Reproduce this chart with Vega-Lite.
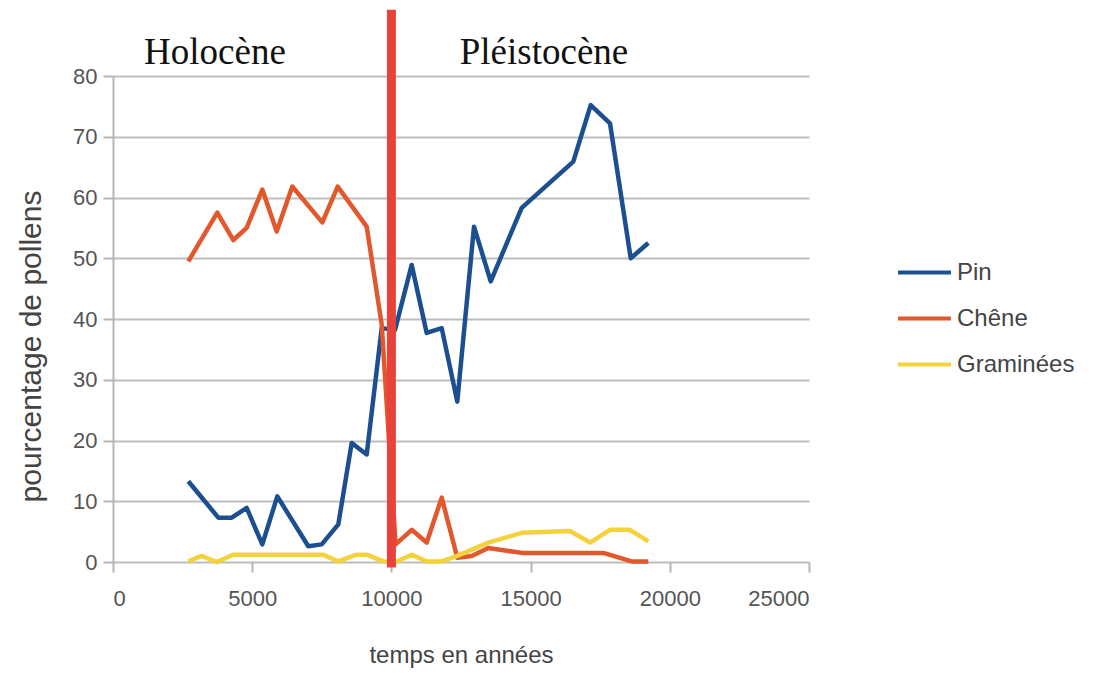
{
  "$schema": "https://vega.github.io/schema/vega-lite/v6.json",
  "width": 696,
  "height": 486,
  "autosize": {"type": "none"},
  "padding": {"left": 113, "top": 76, "right": 288, "bottom": 122},
  "background": "white",
  "config": {
    "view": {"stroke": null},
    "axis": {"labelFont": "Liberation Sans", "titleFont": "Liberation Sans"},
    "legend": {"labelFont": "Liberation Sans"}
  },
  "datasets": {
    "pollens": [
      {"annee": 2705, "pct": 13.3, "espece": "Pin"},
      {"annee": 3782, "pct": 7.3, "espece": "Pin"},
      {"annee": 4264, "pct": 7.3, "espece": "Pin"},
      {"annee": 4802, "pct": 8.9, "espece": "Pin"},
      {"annee": 5363, "pct": 2.9, "espece": "Pin"},
      {"annee": 5902, "pct": 10.8, "espece": "Pin"},
      {"annee": 7015, "pct": 2.6, "espece": "Pin"},
      {"annee": 7496, "pct": 2.9, "espece": "Pin"},
      {"annee": 8093, "pct": 6.2, "espece": "Pin"},
      {"annee": 8574, "pct": 19.6, "espece": "Pin"},
      {"annee": 9113, "pct": 17.7, "espece": "Pin"},
      {"annee": 9652, "pct": 38.5, "espece": "Pin"},
      {"annee": 10129, "pct": 38.2, "espece": "Pin"},
      {"annee": 10729, "pct": 48.9, "espece": "Pin"},
      {"annee": 11268, "pct": 37.7, "espece": "Pin"},
      {"annee": 11807, "pct": 38.5, "espece": "Pin"},
      {"annee": 12367, "pct": 26.4, "espece": "Pin"},
      {"annee": 12967, "pct": 55.2, "espece": "Pin"},
      {"annee": 13567, "pct": 46.2, "espece": "Pin"},
      {"annee": 14680, "pct": 58.3, "espece": "Pin"},
      {"annee": 16534, "pct": 65.9, "espece": "Pin"},
      {"annee": 17159, "pct": 75.2, "espece": "Pin"},
      {"annee": 17852, "pct": 72.2, "espece": "Pin"},
      {"annee": 18596, "pct": 50.0, "espece": "Pin"},
      {"annee": 19228, "pct": 52.5, "espece": "Pin"},
      {"annee": 2705, "pct": 49.5, "espece": "Chêne"},
      {"annee": 3746, "pct": 57.5, "espece": "Chêne"},
      {"annee": 4321, "pct": 53.0, "espece": "Chêne"},
      {"annee": 4802, "pct": 55.0, "espece": "Chêne"},
      {"annee": 5363, "pct": 61.3, "espece": "Chêne"},
      {"annee": 5880, "pct": 54.4, "espece": "Chêne"},
      {"annee": 6440, "pct": 61.8, "espece": "Chêne"},
      {"annee": 7518, "pct": 55.9, "espece": "Chêne"},
      {"annee": 8071, "pct": 61.8, "espece": "Chêne"},
      {"annee": 9113, "pct": 55.2, "espece": "Chêne"},
      {"annee": 9652, "pct": 39.1, "espece": "Chêne"},
      {"annee": 10150, "pct": 2.9, "espece": "Chêne"},
      {"annee": 10729, "pct": 5.3, "espece": "Chêne"},
      {"annee": 11268, "pct": 3.2, "espece": "Chêne"},
      {"annee": 11807, "pct": 10.6, "espece": "Chêne"},
      {"annee": 12367, "pct": 0.7, "espece": "Chêne"},
      {"annee": 12884, "pct": 1.0, "espece": "Chêne"},
      {"annee": 13481, "pct": 2.3, "espece": "Chêne"},
      {"annee": 14680, "pct": 1.5, "espece": "Chêne"},
      {"annee": 17611, "pct": 1.5, "espece": "Chêne"},
      {"annee": 18631, "pct": 0.1, "espece": "Chêne"},
      {"annee": 19228, "pct": 0.1, "espece": "Chêne"},
      {"annee": 2705, "pct": 0.1, "espece": "Graminées"},
      {"annee": 3185, "pct": 1.0, "espece": "Graminées"},
      {"annee": 3724, "pct": 0.0, "espece": "Graminées"},
      {"annee": 4321, "pct": 1.2, "espece": "Graminées"},
      {"annee": 7554, "pct": 1.2, "espece": "Graminées"},
      {"annee": 8093, "pct": 0.1, "espece": "Graminées"},
      {"annee": 8753, "pct": 1.2, "espece": "Graminées"},
      {"annee": 9113, "pct": 1.2, "espece": "Graminées"},
      {"annee": 9710, "pct": 0.1, "espece": "Graminées"},
      {"annee": 10150, "pct": 0.0, "espece": "Graminées"},
      {"annee": 10729, "pct": 1.2, "espece": "Graminées"},
      {"annee": 11268, "pct": 0.1, "espece": "Graminées"},
      {"annee": 11807, "pct": 0.1, "espece": "Graminées"},
      {"annee": 12367, "pct": 1.0, "espece": "Graminées"},
      {"annee": 13481, "pct": 3.2, "espece": "Graminées"},
      {"annee": 14680, "pct": 4.8, "espece": "Graminées"},
      {"annee": 16415, "pct": 5.1, "espece": "Graminées"},
      {"annee": 17134, "pct": 3.2, "espece": "Graminées"},
      {"annee": 17852, "pct": 5.3, "espece": "Graminées"},
      {"annee": 18570, "pct": 5.3, "espece": "Graminées"},
      {"annee": 19228, "pct": 3.4, "espece": "Graminées"}
    ]
  },
  "layer": [
    {
      "data": {"name": "pollens"},
      "mark": {"type": "line", "strokeWidth": 4.5, "strokeJoin": "round"},
      "encoding": {
        "x": {
          "field": "annee", "type": "quantitative",
          "scale": {"domain": [0, 25000], "nice": false, "zero": false},
          "axis": {
            "title": "temps en années",
            "values": [0, 5000, 10000, 15000, 20000, 25000],
            "format": "d",
            "grid": false,
            "domain": false,
            "ticks": true, "tickSize": 10, "tickColor": "#b5b5b5", "tickWidth": 2,
            "labelFontSize": 22, "labelColor": "#555555", "labelPadding": 16,
            "titleFontSize": 24, "titleFontWeight": "normal", "titleColor": "#444444", "titlePadding": 34
          }
        },
        "y": {
          "field": "pct", "type": "quantitative",
          "scale": {"domain": [0, 80], "nice": false},
          "axis": {
            "title": "pourcentage de pollens",
            "values": [0, 10, 20, 30, 40, 50, 60, 70, 80],
            "grid": true, "gridColor": "#bdbdbd", "gridWidth": 2,
            "domain": true, "domainColor": "#b5b5b5", "domainWidth": 2,
            "ticks": true, "tickSize": 10, "tickColor": "#b5b5b5", "tickWidth": 2,
            "labelFontSize": 22, "labelColor": "#555555", "labelPadding": 6,
            "titleFontSize": 30, "titleFontWeight": "normal", "titleColor": "#444444",
            "titleX": -82, "titleY": 270, "titleAlign": "center", "titleBaseline": "middle", "titleAngle": -90
          }
        },
        "color": {
          "field": "espece", "type": "nominal",
          "scale": {"domain": ["Pin", "Chêne", "Graminées"], "range": ["#1c4f8f", "#e2572b", "#f3d23c"]},
          "legend": {
            "title": null,
            "orient": "none",
            "legendX": 783,
            "legendY": 168,
            "symbolType": "stroke",
            "symbolSize": 2800,
            "symbolStrokeWidth": 4,
            "labelFontSize": 24,
            "labelColor": "#444444",
            "labelOffset": 4,
            "rowPadding": 5
          }
        }
      }
    },
    {
      "data": {"values": [{"limite": 10000}]},
      "mark": {"type": "rule", "color": "#e8433a", "strokeWidth": 9},
      "encoding": {
        "x": {"field": "limite", "type": "quantitative"},
        "y": {"datum": -0.9},
        "y2": {"datum": 90.9}
      }
    },
    {
      "data": {"values": [{"periode": "Holocène"}]},
      "mark": {"type": "text", "font": "Liberation Serif", "fontSize": 37, "color": "#111111", "baseline": "alphabetic", "align": "center"},
      "encoding": {
        "x": {"datum": 3664},
        "y": {"datum": 82},
        "text": {"field": "periode"}
      }
    },
    {
      "data": {"values": [{"periode": "Pléistocène"}]},
      "mark": {"type": "text", "font": "Liberation Serif", "fontSize": 37, "color": "#111111", "baseline": "alphabetic", "align": "center"},
      "encoding": {
        "x": {"datum": 15481},
        "y": {"datum": 82},
        "text": {"field": "periode"}
      }
    }
  ]
}
